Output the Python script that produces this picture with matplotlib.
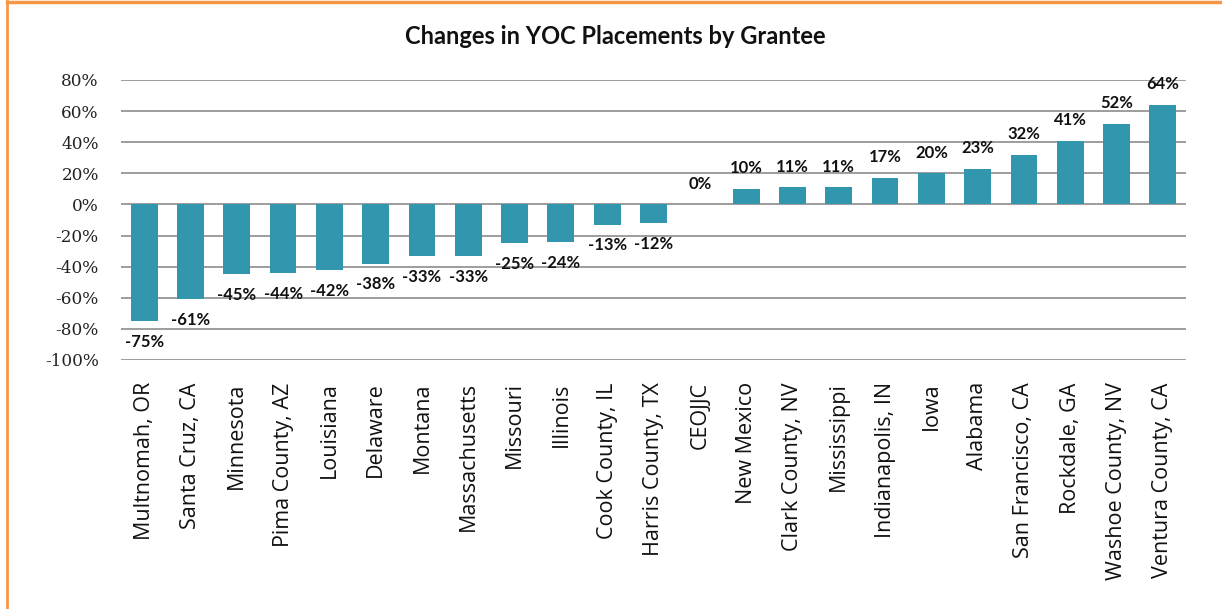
import matplotlib
matplotlib.use("Agg")
import matplotlib.pyplot as plt
from matplotlib.lines import Line2D
from matplotlib.font_manager import FontProperties

categories = ["Multnomah, OR", "Santa Cruz, CA", "Minnesota", "Pima County, AZ",
              "Louisiana", "Delaware", "Montana", "Massachusetts", "Missouri",
              "Illinois", "Cook County, IL", "Harris County, TX", "CEOJJC",
              "New Mexico", "Clark County, NV", "Mississippi", "Indianapolis, IN",
              "Iowa", "Alabama", "San Francisco, CA", "Rockdale, GA",
              "Washoe County, NV", "Ventura County, CA"]
values = [-75, -61, -45, -44, -42, -38, -33, -33, -25, -24, -13, -12, 0,
          10, 11, 11, 17, 20, 23, 32, 41, 52, 64]
yticks = [-100, -80, -60, -40, -20, 0, 20, 40, 60, 80]
ytick_labels = [f"{v}%" for v in yticks]
title = "Changes in YOC Placements by Grantee"

plt.rcParams["font.family"] = ["Lato", "DejaVu Sans"]

W, H = 1222, 609
fig = plt.figure(figsize=(W / 100, H / 100), dpi=100)
ax = fig.add_axes([121 / W, 1 - 360 / H, (1186 - 121) / W, (360 - 80) / H])

x = list(range(len(categories)))
ax.bar(x, values, width=0.58, color="#3297AE", zorder=3)
ax.set_xlim(-0.5, len(categories) - 0.5)
ax.set_ylim(-100, 80)
ax.set_yticks(yticks)
ax.set_yticklabels(ytick_labels, color="#222222")
serif_fp = FontProperties(family=["DejaVu Serif", "Liberation Serif"], size=12.2)
for lab in ax.get_yticklabels():
    lab.set_fontproperties(serif_fp)
ax.set_xticks(x)
ax.set_xticklabels(categories, rotation=90, fontsize=15.5, color="#111111",
                   fontfamily="Open Sans")
ax.tick_params(axis="x", length=0, pad=16)
ax.tick_params(axis="y", length=0, pad=16)
ax.grid(axis="y", color="#8c8c8c", linewidth=1.2, zorder=0)
for s in ax.spines.values():
    s.set_visible(False)

for xi, v in zip(x, values):
    off = 15 if v >= 0 else -15
    ax.annotate(f"{v}%", (xi, v), xytext=(0, off), textcoords="offset points",
                ha="center", va="center", fontsize=12, fontweight="bold",
                color="#111111", zorder=4)

fig.text(615 / W, 1 - 37 / H, title, ha="center", va="center",
         fontsize=17, fontweight="bold", color="#111111")

orange = "#F79646"
fig.add_artist(Line2D([6.5 / W, 6.5 / W], [0, 1 - 1 / H], color=orange,
                      linewidth=2, transform=fig.transFigure))
fig.add_artist(Line2D([6.5 / W, 1], [1 - 1.5 / H, 1 - 1.5 / H], color=orange,
                      linewidth=2.5, transform=fig.transFigure))

fig.savefig("out.png", dpi=100)
